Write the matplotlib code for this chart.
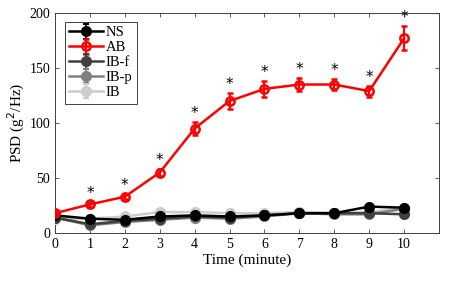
import matplotlib
matplotlib.use("Agg")
import matplotlib.pyplot as plt
import numpy as np

plt.rcParams["font.family"] = ["Liberation Serif", "DejaVu Serif"]

minutes = np.arange(0, 11)
ns = [16, 13, 12, 15, 16, 15, 16, 18, 18, 24, 23]
ns_err = [1.5, 1.5, 1.5, 1.5, 1.5, 1.5, 1.5, 1.5, 1.5, 2, 2]
ab = [18, 26, 33, 55, 95, 120, 131, 135, 135, 129, 177]
ab_err = [2, 2, 2, 3, 6, 7, 7, 6, 5, 5, 11]
ibf = [14, 8, 11, 13, 15, 14, 16, 18, 18, 18, 17]
ibf_err = [1.5, 1.5, 1.5, 1.5, 1.5, 1.5, 1.5, 1.5, 1.5, 1.5, 1.5]
ibp = [14, 7, 10, 12, 14, 13, 15, 18, 17, 17, 22]
ibp_err = [1.5, 1.5, 1.5, 1.5, 1.5, 1.5, 1.5, 1.5, 1.5, 1.5, 1.5]
ib = [13, 13, 15, 19, 19, 18, 18, 19, 18, 19, 23]
ib_err = [1.5, 1.5, 1.5, 1.5, 1.5, 1.5, 1.5, 1.5, 1.5, 1.5, 1.5]
star_minutes = [1, 2, 3, 4, 5, 6, 7, 8, 9, 10]

series = [
    ("NS", ns, ns_err, "black"),
    ("AB", ab, ab_err, "#ff0000"),
    ("IB-f", ibf, ibf_err, "#404040"),
    ("IB-p", ibp, ibp_err, "#808080"),
    ("IB", ib, ib_err, "#cccccc"),
]

fig = plt.figure(figsize=(4.6, 2.83), dpi=100)
ax = fig.add_axes([0.1196, 0.1767, 0.8348, 0.7773])

# gray series first, red on top
order = [4, 3, 2, 0, 1]
drawn = {}
for i in order:
    label, vals, err, col = series[i]
    if label == "AB":
        h = ax.errorbar(minutes, vals, yerr=err, color=col, lw=1.8, marker="o",
                        ms=6, mfc="none", mew=1.8, capsize=2.5, capthick=1.5,
                        elinewidth=1.5, label=label, zorder=5)
    else:
        h = ax.errorbar(minutes, vals, yerr=err, color=col, lw=1.8, marker="o",
                        ms=6.5, mfc=col, mew=1.5, capsize=2, capthick=1.2,
                        elinewidth=1.2, label=label, zorder=3)
    drawn[label] = h

for m in star_minutes:
    ax.text(m, ab[m] + ab_err[m] + 1, "*", ha="center", va="bottom",
            fontsize=11, family="DejaVu Sans", color="black")

ax.set_xlim(0, 11)
ax.set_ylim(0, 200)
ax.set_xticks(range(0, 11))
ax.set_yticks([0, 50, 100, 150, 200])
ax.tick_params(direction="in", top=True, right=True, labelsize=10,
               length=3, width=0.6, colors="#404040", labelcolor="black")
for s in ax.spines.values():
    s.set_color("#404040")
    s.set_linewidth(0.7)
ax.set_xlabel("Time (minute)", fontsize=11, labelpad=2)
ax.set_ylabel("PSD (g$^2$/Hz)", fontsize=11, labelpad=2)

leg = ax.legend([drawn[s[0]] for s in series], [s[0] for s in series],
                loc="upper left", fontsize=10.5, fancybox=False, framealpha=1,
                edgecolor="#404040", borderpad=0.3, labelspacing=0.12,
                handlelength=2.3, handletextpad=0.2, borderaxespad=0,
                bbox_to_anchor=(0.025, 0.96))
leg.get_frame().set_linewidth(0.7)

fig.savefig("out.png", dpi=100)
